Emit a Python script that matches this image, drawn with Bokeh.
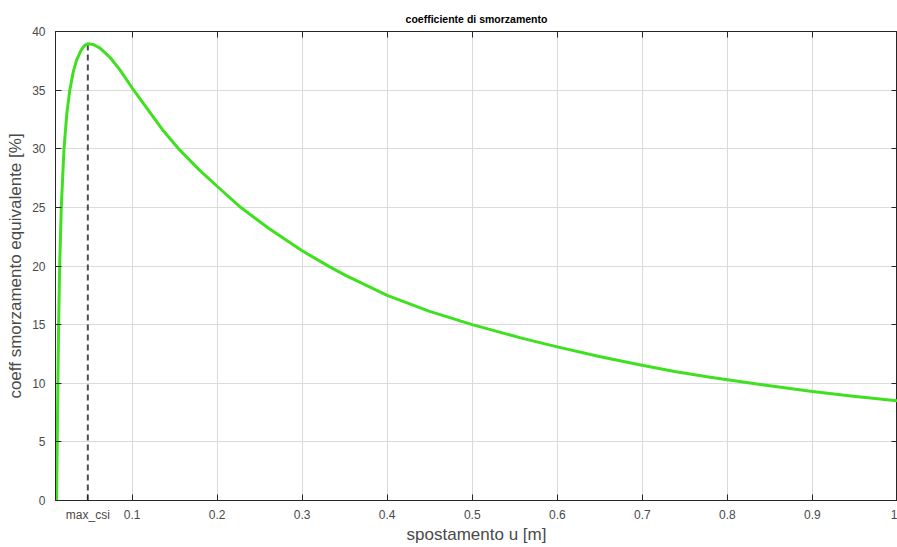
from bokeh.plotting import figure
from bokeh.models import FixedTicker, LinearAxis, Range1d
from bokeh.embed import file_html
from bokeh.resources import INLINE

# ---- data ----
u_m = [0.0112, 0.0120, 0.0128, 0.0137, 0.0149, 0.0168, 0.0200, 0.0233, 0.0268,
       0.0310, 0.0350, 0.0400, 0.0440, 0.0480, 0.0540, 0.0620, 0.0740, 0.0860,
       0.1000, 0.1210, 0.1360, 0.1560, 0.1790, 0.2000, 0.2260, 0.2610, 0.3000,
       0.3320, 0.3510, 0.4000, 0.4490, 0.5000, 0.5580, 0.6000, 0.6480, 0.6980,
       0.7380, 0.7760, 0.8000, 0.8430, 0.9000, 0.9480, 1.0000]
csi_pct = [0.0, 5.0, 10.0, 15.0, 20.0, 25.0, 30.0, 33.0, 35.0,
           36.6, 37.6, 38.4, 38.8, 38.95, 38.9, 38.6, 37.8, 36.7,
           35.2, 33.1, 31.6, 29.9, 28.2, 26.8, 25.1, 23.2, 21.3,
           19.95, 19.2, 17.5, 16.15, 15.0, 13.85, 13.1, 12.3, 11.55,
           11.0, 10.55, 10.3, 9.85, 9.3, 8.9, 8.5]
max_csi_u = 0.048
max_csi_val = 38.95

x_ticks = [0.1, 0.2, 0.3, 0.4, 0.5, 0.6, 0.7, 0.8, 0.9, 1.0]
y_ticks = [0, 5, 10, 15, 20, 25, 30, 35, 40]
max_label = "max_csi"
title_text = "coefficiente di smorzamento"
x_label = "spostamento u [m]"
y_label = "coeff smorzamento equivalente [%]"

FONT = "Liberation Sans"
AX = "#262626"
TXT = "#4a4a4a"

p = figure(width=897, height=547, output_backend="svg", toolbar_location=None,
           x_range=Range1d(0.010, 1.0), y_range=Range1d(0, 40),
           min_border_left=55, min_border_right=0, min_border_top=31,
           min_border_bottom=47, title=title_text)

p.title.align = "center"
p.title.text_font = FONT
p.title.text_font_size = "10.5px"
p.title.text_font_style = "bold"
p.title.text_color = "#000000"
p.title.standoff = 13

p.outline_line_color = AX
p.outline_line_width = 1

# grid
p.xgrid.ticker = FixedTicker(ticks=x_ticks[:-1])
p.ygrid.ticker = FixedTicker(ticks=y_ticks)
for g in (p.xgrid, p.ygrid):
    g.grid_line_color = "#dadada"
    g.grid_line_width = 1

# bottom / left axes
xa = p.xaxis[0]
xa.ticker = FixedTicker(ticks=[max_csi_u] + x_ticks)
xa.major_label_overrides = {max_csi_u: max_label, 1.0: "1"}
ya = p.yaxis[0]
ya.ticker = FixedTicker(ticks=y_ticks)

for ax in (xa, ya):
    ax.axis_line_color = AX
    ax.major_tick_line_color = AX
    ax.major_tick_in = 6
    ax.major_tick_out = 0
    ax.minor_tick_line_color = None
    ax.major_label_text_font = FONT
    ax.major_label_text_font_size = "12px"
    ax.major_label_text_color = TXT
    ax.axis_label_text_font = FONT
    ax.axis_label_text_font_size = "17px"
    ax.axis_label_text_font_style = "normal"
    ax.axis_label_text_color = TXT

xa.axis_label = x_label
xa.major_label_standoff = 7
xa.axis_label_standoff = 0
ya.axis_label = y_label
ya.major_label_standoff = 10
ya.axis_label_standoff = 4

# box axes (top & right) with inward ticks, no labels
top = LinearAxis(ticker=FixedTicker(ticks=x_ticks[:-1]),
                 major_label_overrides={t: "" for t in x_ticks[:-1]})
right = LinearAxis(ticker=FixedTicker(ticks=y_ticks),
                   major_label_overrides={t: "" for t in y_ticks})
for ax in (top, right):
    ax.axis_line_color = AX
    ax.major_tick_line_color = AX
    ax.major_tick_in = 6
    ax.major_tick_out = 0
    ax.minor_tick_line_color = None
    ax.major_label_standoff = 0
    ax.major_label_text_font_size = "1px"
p.add_layout(top, "above")
p.add_layout(right, "right")

# dashed marker line at the maximum
p.line([max_csi_u, max_csi_u], [0, max_csi_val], line_color="#4d4d4d",
       line_width=2, line_dash="6 4")

# curve
p.line(u_m, csi_pct, line_color="#3fe020", line_width=3, line_join="round",
       line_cap="round")

open("out.html", "w").write(file_html(p, INLINE))
